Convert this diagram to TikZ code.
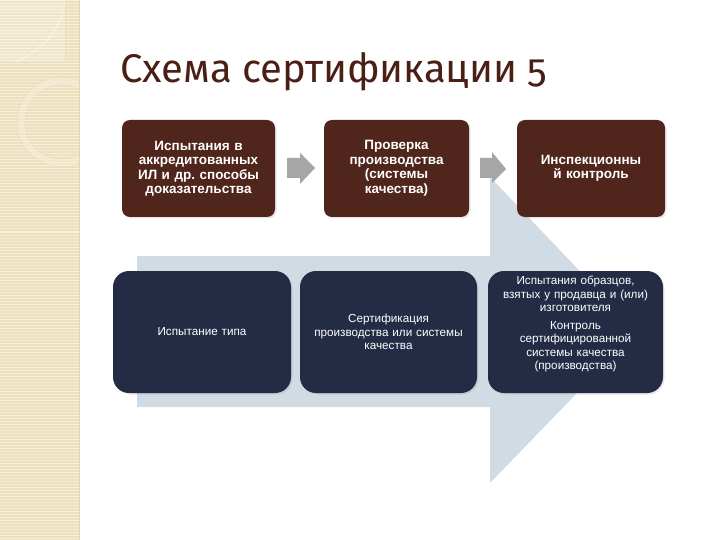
\documentclass[tikz,border=0pt]{standalone}
\usepackage{fontspec}
\setmainfont{Liberation Sans}
\newfontfamily\titlefont[Numbers=OldStyle]{Fira Sans}
\usetikzlibrary{shadows}
\frenchspacing
\definecolor{stripbg}{HTML}{EDE0BE}
\definecolor{stripline}{HTML}{F6EEDA}
\definecolor{brownbox}{HTML}{50261C}
\definecolor{navybox}{HTML}{232B45}
\definecolor{lightarrow}{HTML}{D0DBE3}
\definecolor{grayarrow}{HTML}{A6A6A6}
\definecolor{titlecol}{HTML}{4A1F16}
\tikzset{
  topbox/.style={fill=brownbox, rounded corners=8pt, text=white, align=center,
    font=\bfseries\fontsize{13.5}{14.5}\selectfont, inner sep=2pt,
    drop shadow={opacity=0.18, shadow xshift=1.5pt, shadow yshift=-1.5pt}},
  botbox/.style={fill=navybox, rounded corners=16pt, text=white, align=center,
    font=\fontsize{11.7}{13.8}\selectfont, inner sep=2pt,
    drop shadow={opacity=0.18, shadow xshift=1.5pt, shadow yshift=-1.5pt}},
}
\begin{document}
\frenchspacing
\begin{tikzpicture}[x=1pt,y=-1pt]
\useasboundingbox (0,0) rectangle (720,540);
\fill[white] (0,0) rectangle (720,540);
% decorative strip
\fill[stripbg] (0,0) rectangle (79,540);
\foreach \yy in {1,4,...,540} \draw[stripline, line width=1pt] (0,\yy) -- (79,\yy);
\fill[white, opacity=0.2] (0,0) rectangle (65,62);
\draw[white, opacity=0.45, line width=1pt] (65,0) .. controls (60,35) and (40,50) .. (15,62);
\draw[stripbg!80!brown, opacity=0.3, line width=0.6pt] (0,62) -- (65,62) -- (65,0);
\begin{scope}
\clip (0,0) rectangle (79,540);
\draw[stripline, line width=7pt, opacity=0.6] (62,122) circle (41);
\draw[stripbg!75!brown, line width=0.4pt, opacity=0.35] (62,122) circle (45);
\draw[stripbg!75!brown, line width=0.4pt, opacity=0.25] (62,122) circle (37);
\end{scope}
\draw[stripbg!85!brown, line width=0.6pt] (79,0) -- (79,540);
% title
\node[anchor=west, text=titlecol, font=\titlefont\fontsize{40}{48}\selectfont] (title) at (117,72) {Схема сертификации 5};
% big arrow
\fill[lightarrow] (137,256) -- (490,256) -- (490,177) -- (637,331) -- (490,483) -- (490,407) -- (137,407) -- cycle;
% top boxes
\node[topbox, minimum width=153pt, minimum height=97pt, text width=146pt] (t1) at (198.5,168.5)
  {Испытания в\\аккредитованных\\ИЛ и др. способы\\доказательства};
\node[topbox, minimum width=145pt, minimum height=97pt, text width=138pt] (t2) at (396.5,168.5)
  {Проверка\\производства\\(системы\\качества)};
\node[topbox, minimum width=148pt, minimum height=97pt, text width=140pt] (t3) at (591,168.5)
  {Инспекционны\\й контроль};
% small gray arrows
\fill[grayarrow] (287,158) -- (300,158) -- (300,153) -- (315,168) -- (300,184) -- (300,178) -- (287,178) -- cycle;
\fill[grayarrow] (480,158) -- (492,158) -- (492,152) -- (506,169) -- (492,183) -- (492,178) -- (480,178) -- cycle;
% bottom boxes
\node[botbox, minimum width=178pt, minimum height=122pt, text width=168pt] (b1) at (202,332)
  {Испытание типа};
\node[botbox, minimum width=177pt, minimum height=122pt, text width=168pt] (b2) at (388.5,332)
  {Сертификация\\производства или системы\\качества};
\node[botbox, minimum width=175pt, minimum height=122pt, text width=168pt] (b3) at (575.5,332) {};
\node[text=white, align=center, font=\fontsize{11.7}{13.5}\selectfont, text width=168pt] at (575.5,324)
  {Испытания образцов,\\взятых у продавца и (или)\\изготовителя\\[4pt]Контроль\\сертифицированной\\системы качества\\(производства)};
\end{tikzpicture}
\end{document}
